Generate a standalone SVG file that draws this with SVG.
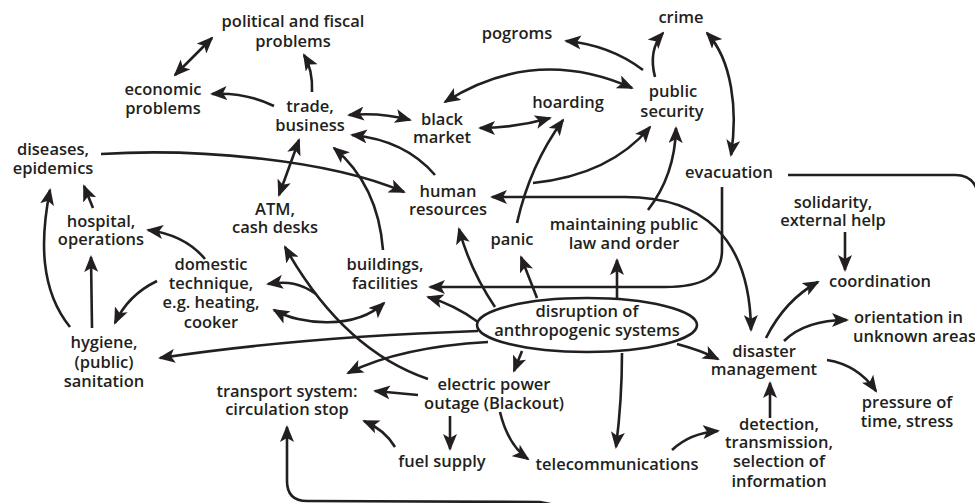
<svg xmlns="http://www.w3.org/2000/svg" width="975" height="503" viewBox="0 0 975 503">
<defs>
<marker id="ah" markerUnits="userSpaceOnUse" markerWidth="17" markerHeight="14" refX="15" refY="7" orient="auto-start-reverse" viewBox="0 0 17 14">
<path d="M0,0 L17,7 L0,14 L4,7 z" fill="#231f20"/>
</marker>
<style>
text{font-family:"Open Sans","Noto Sans","Liberation Sans",sans-serif;font-size:16.5px;font-weight:600;fill:#231f20;text-anchor:middle}
.l{text-anchor:start}
#connectors path{fill:none;stroke:#231f20;stroke-width:2.6}
.e{marker-end:url(#ah)}
.b{marker-start:url(#ah);marker-end:url(#ah)}
ellipse{fill:none;stroke:#231f20;stroke-width:2.6}
</style>
</defs>
<rect width="975" height="503" fill="#ffffff"/>
<g id="connectors">
<path class="b" d="M175,75 L212,38"/>
<path class="e" d="M312,92 Q313,70 304,55"/>
<path class="e" d="M274,106 Q245,92 212,94"/>
<path class="b" d="M349,115 Q380,112 410,120"/>
<path class="e" d="M435,175 Q405,140 352,135"/>
<path class="e" d="M383,250 Q378,185 334,148"/>
<path class="b" d="M299,140 L279,195"/>
<path class="e" d="M101,154 C200,148 330,160 404,192"/>
<path class="b" d="M445,102 Q535,45 632,88"/>
<path class="b" d="M480,128 Q515,128 550,118"/>
<path class="e" d="M643,70 Q610,45 566,41"/>
<path class="e" d="M655,77 Q648,50 663,33"/>
<path class="b" d="M707,33 C732,60 738,110 731,155"/>
<path class="e" d="M517,223 Q530,165 563,120"/>
<path class="e" d="M533,183 Q610,175 650,127"/>
<path class="e" d="M648,210 Q675,175 676,128"/>
<path class="e" d="M722,187 L722,250 C722,278 700,287 665,287 L430,287"/>
<path class="e" d="M617,298 L617,260"/>
<path class="e" d="M537,298 L521,257"/>
<path class="e" d="M495,307 Q470,270 459,229"/>
<path class="e" d="M478,322 Q455,305 428,297"/>
<path class="b" d="M492,197 L625,197 C700,197 750,235 751,330"/>
<path class="e" d="M677,344 Q700,350 718,359"/>
<path class="e" d="M622,353 Q622,400 616,447"/>
<path class="e" d="M522,351 L514,371"/>
<path class="e" d="M488,342 Q400,347 348,373"/>
<path class="e" d="M478,331 Q300,337 160,358"/>
<path class="e" d="M428,379 Q343,350 285,247"/>
<path class="e" d="M316,294 C300,283 288,281 268,284"/>
<path class="b" d="M274,310 C300,325 355,330 384,303"/>
<path class="e" d="M205,259 Q185,235 148,230"/>
<path class="e" d="M157,281 Q128,295 115,323"/>
<path class="e" d="M92,328 L91,257"/>
<path class="e" d="M70,327 C40,290 40,240 50,190"/>
<path class="e" d="M93,208 L84,186"/>
<path class="e" d="M418,395 L375,391"/>
<path class="e" d="M395,447 Q385,430 364,421"/>
<path class="e" d="M450,416 L450,449"/>
<path class="e" d="M500,412 Q508,445 528,459"/>
<path class="e" d="M672,450 Q690,433 718,431"/>
<path class="e" d="M770,418 L770,383"/>
<path class="e" d="M766,338 Q785,300 818,282"/>
<path class="e" d="M784,341 Q805,320 847,320"/>
<path class="e" d="M827,360 Q858,365 876,391"/>
<path class="e" d="M845,232 L845,270"/>
<path class="e" d="M788,175 L955,175 Q977,175 979,200 L979,530 L560,506 L540,502 L307,501 Q287,501 287,481 L287,427"/>
</g>
<g id="political"><text x="293" y="27">political and fiscal<tspan x="293" dy="20">problems</tspan></text></g>
<g id="economic"><text x="163" y="95">economic<tspan x="163" dy="19">problems</tspan></text></g>
<g id="trade"><text x="310" y="112">trade,<tspan x="310" dy="19">business</tspan></text></g>
<g id="blackmarket"><text x="442" y="125">black<tspan x="442" dy="18">market</tspan></text></g>
<g id="hoarding"><text x="568" y="108">hoarding</text></g>
<g id="pogroms"><text x="517" y="39">pogroms</text></g>
<g id="crime"><text x="681" y="23">crime</text></g>
<g id="publicsecurity"><text x="673" y="97">public<tspan x="672" dy="20">security</tspan></text></g>
<g id="diseases"><text x="53" y="155">diseases,<tspan x="53" dy="19">epidemics</tspan></text></g>
<g id="human"><text x="448" y="197">human<tspan x="448" dy="18">resources</tspan></text></g>
<g id="atm"><text x="275" y="215">ATM,<tspan x="275" dy="18">cash desks</tspan></text></g>
<g id="hospital"><text x="101" y="227">hospital,<tspan x="101" dy="18">operations</tspan></text></g>
<g id="evacuation"><text x="729" y="178">evacuation</text></g>
<g id="solidarity"><text x="833" y="208">solidarity,<tspan x="833" dy="18">external help</tspan></text></g>
<g id="maintaining"><text x="624" y="230">maintaining public<tspan x="624" dy="19">law and order</tspan></text></g>
<g id="panic"><text x="512" y="245">panic</text></g>
<g id="buildings"><text x="385" y="270">buildings,<tspan x="385" dy="19">facilities</tspan></text></g>
<g id="domestic"><text x="211" y="270">domestic<tspan x="211" dy="19">technique,</tspan><tspan x="211" dy="19">e.g. heating,</tspan><tspan x="211" dy="20">cooker</tspan></text></g>
<g id="coordination"><text x="880" y="287">coordination</text></g>
<g id="orientation"><text class="l" x="854" y="323">orientation in<tspan x="853" dy="19">unknown areas</tspan></text></g>
<g id="disruption"><ellipse cx="587" cy="325" rx="110" ry="27"/><text x="587" y="317">disruption of<tspan x="587" dy="19">anthropogenic systems</tspan></text></g>
<g id="hygiene"><text x="104" y="348">hygiene,<tspan x="104" dy="20">(public)</tspan><tspan x="104" dy="19">sanitation</tspan></text></g>
<g id="disaster"><text x="764" y="357">disaster<tspan x="764" dy="18">management</tspan></text></g>
<g id="transport"><text x="287" y="397">transport system:<tspan x="287" dy="18">circulation stop</tspan></text></g>
<g id="electric"><text x="494" y="390">electric power<tspan x="494" dy="19">outage (Blackout)</tspan></text></g>
<g id="pressure"><text x="907" y="408">pressure of<tspan x="907" dy="19">time, stress</tspan></text></g>
<g id="detection"><text x="779" y="430">detection,<tspan x="779" dy="18">transmission,</tspan><tspan x="779" dy="19">selection of</tspan><tspan x="779" dy="20">information</tspan></text></g>
<g id="fuel"><text x="442" y="467">fuel supply</text></g>
<g id="telecom"><text x="617" y="470">telecommunications</text></g>
</svg>
